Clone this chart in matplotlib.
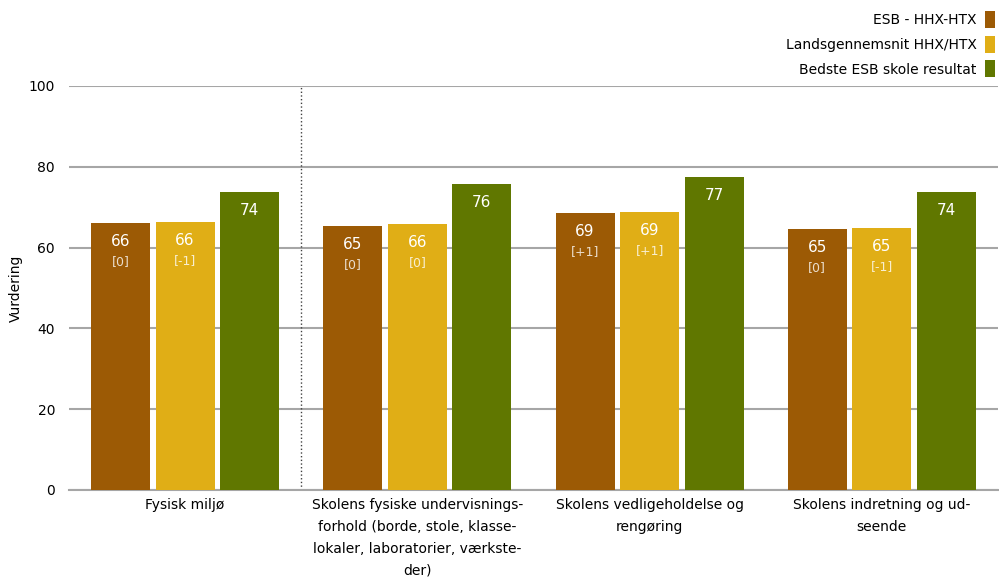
import numpy as np
import matplotlib.pyplot as plt

plt.rcParams['font.family'] = ['DejaVu Sans']

categories = ['Fysisk miljø',
              'Skolens fysiske undervisnings-\nforhold (borde, stole, klasse-\nlokaler, laboratorier, værkste-\nder)',
              'Skolens vedligeholdelse og\nrengøring',
              'Skolens indretning og ud-\nseende']
series_names = ['ESB - HHX-HTX', 'Landsgennemsnit HHX/HTX', 'Bedste ESB skole resultat']
esb = [66.1, 65.3, 68.6, 64.6]
lands = [66.3, 65.8, 68.8, 64.9]
best = [73.8, 75.7, 77.4, 73.8]
esb_delta = ['[0]', '[0]', '[+1]', '[0]']
lands_delta = ['[-1]', '[0]', '[+1]', '[-1]']
colors = ['#9C5A05', '#E0AE16', '#607700']

fig = plt.figure(figsize=(9.99, 5.77), dpi=100)
ax = fig.add_axes([0.069, 0.151, 0.93, 0.7])

x = np.arange(len(categories))
w = 0.254
step = 0.278
series = [esb, lands, best]
deltas = [esb_delta, lands_delta, None]
for i, (vals, c, name) in enumerate(zip(series, colors, series_names)):
    pos = x + (i - 1) * step
    ax.bar(pos, vals, width=w, color=c, label=name, zorder=3)
    for j, v in enumerate(vals):
        ax.text(pos[j], v - 4.6, '%d' % round(v), ha='center', va='center',
                color='white', fontsize=11, zorder=4)
        if deltas[i] is not None:
            ax.text(pos[j], v - 9.6, deltas[i][j], ha='center', va='center',
                    color='white', alpha=0.8, fontsize=9, zorder=4)

ax.set_ylim(0, 100)
ax.set_xlim(-0.5, len(categories) - 0.5)
ax.set_yticks(range(0, 101, 20))
ax.yaxis.grid(True, color='#a6a6a6', lw=1.5, zorder=0)
ax.set_xticks(x)
ax.set_xticklabels(categories, fontsize=10, linespacing=1.72)
ax.tick_params(axis='both', length=0, labelsize=10)
ax.tick_params(axis='y', pad=10)
ax.tick_params(axis='x', pad=6)
for s in ['left', 'right', 'top']:
    ax.spines[s].set_visible(False)
ax.spines['bottom'].set_color('#a6a6a6')
ax.spines['bottom'].set_linewidth(1.5)
ax.axvline(0.5, color='#404040', ls=':', lw=1, zorder=2)
ax.set_ylabel('Vurdering', fontsize=10, labelpad=4)

handles, labels = ax.get_legend_handles_labels()
fig.legend(handles, labels, loc='upper right', bbox_to_anchor=(1.002, 0.99),
           frameon=False, markerfirst=False, fontsize=10,
           handlelength=0.75, handleheight=1.5, handletextpad=0.6,
           labelspacing=0.55, borderaxespad=0.0)

fig.savefig('out.png', dpi=100)
